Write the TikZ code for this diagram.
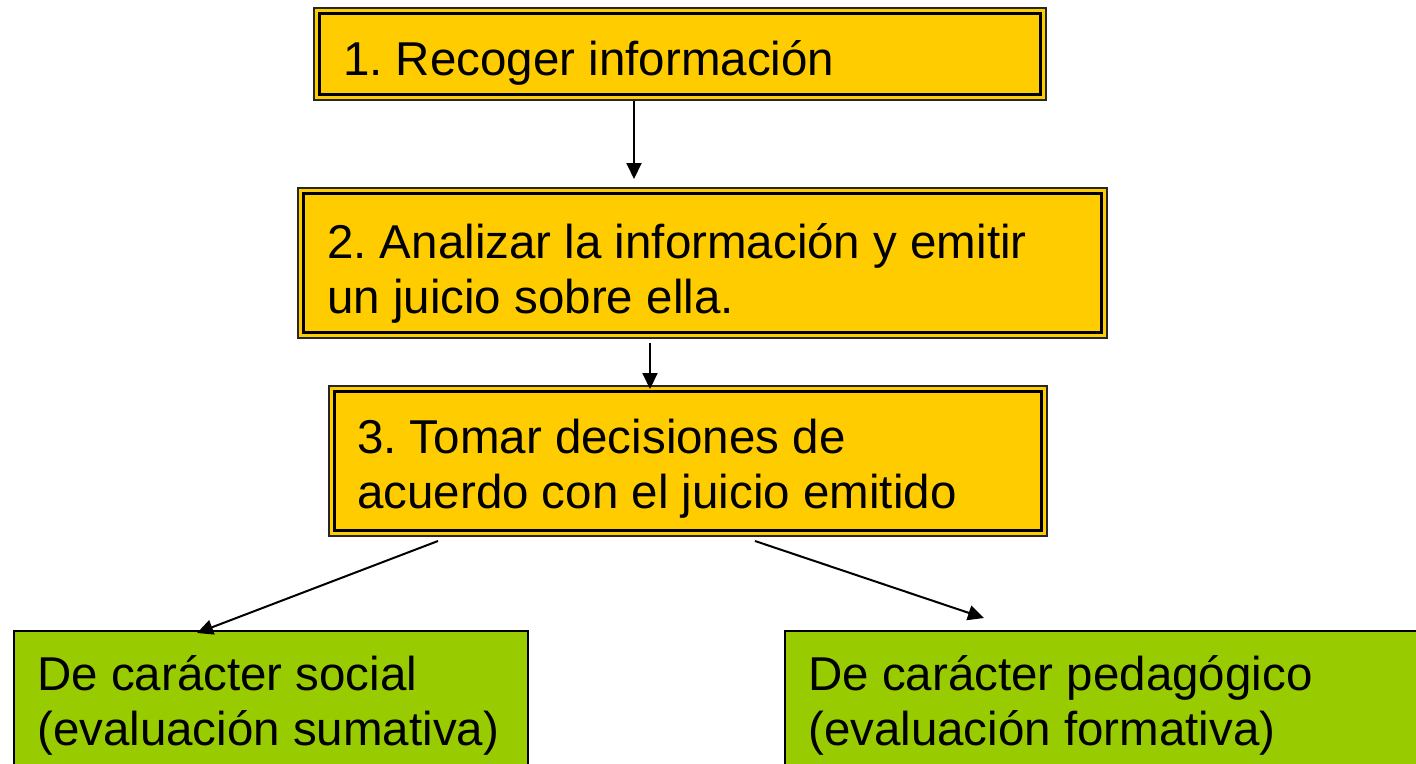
\documentclass[tikz,border=0pt]{standalone}
\usepackage{fontspec}
\setmainfont{Liberation Sans}
\frenchspacing
\usetikzlibrary{arrows.meta}
\definecolor{boxyellow}{HTML}{FFCC00}
\definecolor{boxgreen}{HTML}{99CC00}
\begin{document}
\begin{tikzpicture}[x=1pt,y=-1pt,
  ybox/.style={draw=black!85, line width=1.6pt, fill=boxyellow, inner sep=0pt},
  gbox/.style={draw=black, line width=1.8pt, fill=boxgreen, inner sep=0pt},
  innerline/.style={draw=black, line width=3pt},
  txt/.style={anchor=base west, inner sep=0pt, align=left, font=\fontsize{47.5pt}{55pt}\selectfont},
  arr/.style={draw=black, line width=2pt, -{Triangle[length=16pt,width=15pt]}}
]
\useasboundingbox (0,0) rectangle (1416,763);
% box 1
\path[ybox] (314,8) rectangle (1046,100);
\node[inner sep=0pt, minimum width=732pt, minimum height=92pt] (b1) at (680,54) {};
\draw[innerline] (319.5,13.5) rectangle (1040.5,94.5);
\node[txt] (t1) at (343,75) {1. Recoger información};
% box 2
\path[ybox] (298,188) rectangle (1107,338);
\node[inner sep=0pt, minimum width=809pt, minimum height=150pt] (b2) at (702.5,263) {};
\draw[innerline] (303.5,193.5) rectangle (1101.5,332.5);
\node[txt] (t2) at (327,313) {2. Analizar la información y emitir\\un juicio sobre ella.};
% box 3
\path[ybox] (329,386) rectangle (1047,536);
\node[inner sep=0pt, minimum width=718pt, minimum height=150pt] (b3) at (688,461) {};
\draw[innerline] (334.5,391.5) rectangle (1041.5,530.5);
\node[txt] (t3) at (357,508) {3. Tomar decisiones de\\acuerdo con el juicio emitido};
% green boxes
\path[gbox] (14,631) rectangle (528,775);
\node[inner sep=0pt, minimum width=514pt, minimum height=144pt] (g1) at (271,703) {};
\node[txt] (t4) at (37,745) {De carácter social\\(evaluación sumativa)};
\path[gbox] (785,631) rectangle (1430,775);
\node[inner sep=0pt, minimum width=645pt, minimum height=144pt] (g2) at (1107.5,703) {};
\node[txt] (t5) at (808,745) {De carácter pedagógico\\(evaluación formativa)};
% connectors
\coordinate (a1s) at (634,101);
\coordinate (a1e) at (634,179);
\coordinate (a2s) at (650,343);
\coordinate (a2e) at (650,389);
\coordinate (a3s) at (438,541);
\coordinate (a3e) at (197,633);
\coordinate (a4s) at (755,541);
\coordinate (a4e) at (984,618);
\draw[arr] (a1s) -- (a1e);
\draw[arr] (a2s) -- (a2e);
\draw[arr] (a3s) -- (a3e);
\draw[arr] (a4s) -- (a4e);
\end{tikzpicture}
\end{document}
